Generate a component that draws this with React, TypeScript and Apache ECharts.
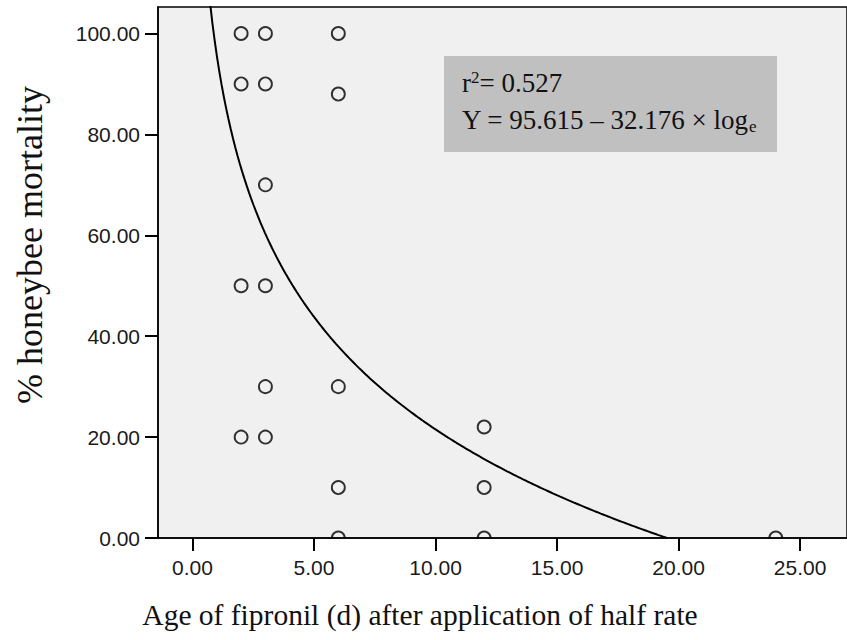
import React, { useEffect, useRef } from "react";
import * as echarts from "echarts";

// Observed data: age of fipronil (days) vs % honeybee mortality
const ageDays = [2, 2, 2, 2, 3, 3, 3, 3, 3, 3, 6, 6, 6, 6, 6, 12, 12, 12, 24];
const mortality = [100, 90, 50, 20, 100, 90, 70, 50, 30, 20, 100, 88, 30, 10, 0, 22, 10, 0, 0];

// Fitted logarithmic model shown on the chart: Y = a - b * ln(x)
const fitIntercept = 95.615;
const fitSlope = 32.176;
const rSquared = 0.527;

const xTicks = [0, 5, 10, 15, 20, 25];
const yTicks = [0, 20, 40, 60, 80, 100];

export default function App() {
  const ref = useRef<HTMLDivElement>(null);
  useEffect(() => {
    if (!ref.current) return;
    const chart = echarts.init(ref.current, null, { renderer: "svg" });
    const scatterData = ageDays.map((x, i) => [x, mortality[i]]);
    const xStart = Math.exp((fitIntercept - 106) / fitSlope);
    const xEnd = Math.exp(fitIntercept / fitSlope);
    const curve: number[][] = [];
    const n = 200;
    for (let i = 0; i <= n; i++) {
      const x = xStart + ((xEnd - xStart) * i) / n;
      curve.push([x, fitIntercept - fitSlope * Math.log(x)]);
    }
    const sans = "Liberation Sans";
    const serif = "Liberation Serif";
    chart.setOption({
      animation: false,
      backgroundColor: "#ffffff",
      grid: {
        left: 158,
        top: 7,
        right: -15,
        bottom: 102,
        show: true,
        backgroundColor: "#f0f0f0",
        borderColor: "#000",
        borderWidth: 1.5,
      },
      xAxis: {
        type: "value",
        z: 10,
        min: -1.42,
        max: 26.93,
        splitLine: { show: false },
        axisLine: { onZero: false, lineStyle: { color: "#000", width: 1.5 } },
        axisTick: { customValues: xTicks, length: 13, lineStyle: { color: "#000", width: 2 } },
        axisLabel: {
          customValues: xTicks,
          formatter: (v: number) => v.toFixed(2),
          fontFamily: sans,
          fontSize: 21,
          color: "#1a1a1a",
          margin: 19,
        },
      },
      yAxis: {
        type: "value",
        z: 10,
        min: 0,
        max: 105.25,
        splitLine: { show: false },
        axisLine: { onZero: false, lineStyle: { color: "#000", width: 1.5 } },
        axisTick: { customValues: yTicks, length: 13, lineStyle: { color: "#000", width: 2 } },
        axisLabel: {
          customValues: yTicks,
          formatter: (v: number) => v.toFixed(2),
          fontFamily: sans,
          fontSize: 21,
          color: "#1a1a1a",
          margin: 18,
        },
      },
      series: [
        {
          type: "line",
          data: curve,
          showSymbol: false,
          clip: true,
          lineStyle: { color: "#000", width: 2 },
          z: 2,
        },
        {
          type: "scatter",
          data: scatterData,
          symbol: "circle",
          symbolSize: 13,
          clip: true,
          itemStyle: { color: "rgba(0,0,0,0)", borderColor: "#000", borderWidth: 1.9 },
          z: 3,
        },
      ],
      graphic: [
        {
          type: "rect",
          shape: { x: 159, y: 539, width: 700, height: 10 },
          style: { fill: "#ffffff" },
          z: 5,
        },
        {
          type: "rect",
          shape: { x: 444, y: 56, width: 333, height: 96 },
          style: { fill: "#c0c0c0" },
          z: 10,
        },
        {
          type: "text",
          x: 462,
          y: 83,
          z: 11,
          style: {
            text: "{b|r}{sup|2}{b|= " + rSquared.toFixed(3) + "}",
            verticalAlign: "middle",
            rich: {
              b: { fontFamily: serif, fontSize: 27, fill: "#111" },
              sup: { fontFamily: serif, fontSize: 17, fill: "#111", verticalAlign: "top", padding: [0, 0, 12, 0] },
            },
          },
        },
        {
          type: "text",
          x: 462,
          y: 120,
          z: 11,
          style: {
            text:
              "{b|Y = " + fitIntercept.toFixed(3) + " – " + fitSlope.toFixed(3) + " × log}{sub|e}",
            verticalAlign: "middle",
            rich: {
              b: { fontFamily: serif, fontSize: 27, fill: "#111" },
              sub: { fontFamily: serif, fontSize: 17, fill: "#111", padding: [12, 0, 0, 0] },
            },
          },
        },
        {
          type: "text",
          x: 420,
          y: 615,
          style: {
            text: "Age of fipronil (d) after application of half rate",
            align: "center",
            verticalAlign: "middle",
            fontFamily: serif,
            fontSize: 29.5,
            fill: "#111",
          },
        },
        {
          type: "text",
          x: 30,
          y: 245,
          rotation: Math.PI / 2,
          style: {
            text: "% honeybee mortality",
            align: "center",
            verticalAlign: "middle",
            fontFamily: serif,
            fontSize: 36,
            fill: "#111",
          },
        },
      ],
    });
    return () => chart.dispose();
  }, []);
  return (
    <div
      ref={ref}
      style={{ position: "fixed", left: 0, top: 0, width: 847, height: 640, background: "#fff" }}
    />
  );
}
